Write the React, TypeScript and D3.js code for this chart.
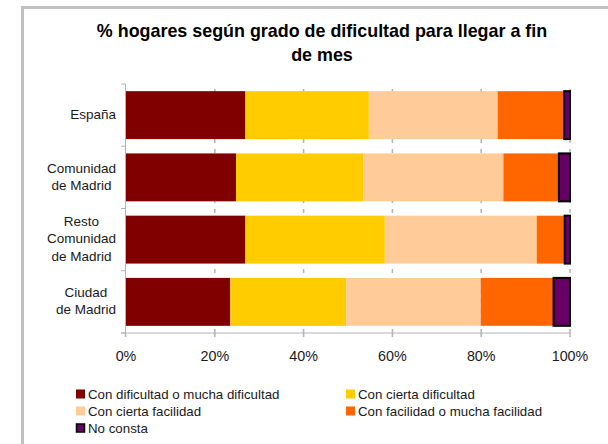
import React from "react";
import * as d3 from "d3";

const categories = ["España", "Comunidad de Madrid", "Resto Comunidad de Madrid", "Ciudad de Madrid"];
const categoryLines = [["España"], ["Comunidad", "de Madrid"], ["Resto", "Comunidad", "de Madrid"], ["Ciudad", "de Madrid"]];
const seriesNames = [
  "Con dificultad o mucha dificultad",
  "Con cierta dificultad",
  "Con cierta facilidad",
  "Con facilidad o mucha facilidad",
  "No consta",
];
const conDificultad = [26.9, 24.8, 26.9, 23.5];
const ciertaDificultad = [27.8, 28.6, 31.4, 26.1];
const ciertaFacilidad = [29.0, 31.6, 34.2, 30.3];
const conFacilidad = [15.0, 12.5, 6.3, 16.4];
const noConsta = [1.3, 2.5, 1.2, 3.7];
const seriesValues = [conDificultad, ciertaDificultad, ciertaFacilidad, conFacilidad, noConsta];
const colors = ["#800000", "#FFCC00", "#FFCC99", "#FF6600", "#660066"];
const xTicks = [0, 20, 40, 60, 80, 100];
const titleLines = ["% hogares según grado de dificultad para llegar a fin", "de mes"];

const FONT = "'Liberation Sans', Arial, Helvetica, sans-serif";

let ctx: CanvasRenderingContext2D | null = null;
function measure(text: string, font: string): number {
  if (!ctx) ctx = document.createElement("canvas").getContext("2d");
  if (!ctx) return text.length * 7;
  ctx.font = font;
  return ctx.measureText(text).width;
}

export default function App() {
  const W = 608, H = 444;
  const x = d3.scaleLinear().domain([0, 100]).range([126, 570]);
  const y = d3.scaleBand<string>().domain(categories).range([84, 333]).paddingInner(0.23).paddingOuter(0.115);

  const rows = categories.map((c, i) => {
    const r: any = { cat: c };
    seriesNames.forEach((s, k) => (r[s] = seriesValues[k][i]));
    return r;
  });
  const stacked = d3.stack<any>().keys(seriesNames)(rows);

  const catFont = `13.5px ${FONT}`;
  const lineH = 17.3;
  const labelRight = 116;

  const step = y.step();
  const boundaries = categories.map((_, i) => 84 + i * step).concat([333]);

  return (
    <svg width={W} height={H} style={{ position: "absolute", left: 0, top: 0, background: "#fff" }} fontFamily={FONT}>
      <rect x={0} y={0} width={W} height={H} fill="#fff" />
      <rect x={22.5} y={7.5} width={700} height={600} fill="#fff" stroke="#c0c0c0" strokeWidth={3} />

      {titleLines.map((t, i) => (
        <text key={i} x={322} y={36.5 + i * 24} textAnchor="middle" fontSize={17.9} fontWeight="bold" fill="#000">
          {t}
        </text>
      ))}

      {/* gridlines */}
      {xTicks.slice(1).map((t) => (
        <line key={t} x1={x(t)} x2={x(t)} y1={333} y2={84} stroke="#b3b3b3" strokeWidth={1.5} strokeDasharray="4,6" />
      ))}

      {/* bars */}
      {stacked.map((s, k) => (
        <g key={s.key} fill={colors[k]}>
          {s.map((d, i) => (
            <rect
              key={i}
              x={x(d[0])}
              y={y(categories[i])}
              width={x(d[1]) - x(d[0])}
              height={y.bandwidth()}
              stroke={k === 4 ? "#000" : "none"}
              strokeWidth={k === 4 ? 2 : 0}
            />
          ))}
        </g>
      ))}

      {/* axes */}
      <line x1={125.5} x2={125.5} y1={84} y2={337} stroke="#b3b3b3" strokeWidth={1} />
      {boundaries.map((b, i) => (
        <line key={i} x1={121} x2={125.5} y1={b} y2={b} stroke="#b3b3b3" strokeWidth={1} />
      ))}
      <line x1={121} x2={570} y1={333} y2={333} stroke="#b3b3b3" strokeWidth={1} />
      {xTicks.map((t) => (
        <g key={t}>
          <line x1={t === 0 ? 125.5 : x(t)} x2={t === 0 ? 125.5 : x(t)} y1={333} y2={337} stroke="#b3b3b3" strokeWidth={1.5} />
          <text x={x(t)} y={361} textAnchor="middle" fontSize={14.3} fill="#1a1a1a">
            {t}%
          </text>
        </g>
      ))}

      {/* category labels */}
      {categoryLines.map((lines, i) => {
        const maxW = Math.max(...lines.map((l) => measure(l, catFont)));
        const cx = labelRight - maxW / 2;
        const cy = (y(categories[i]) as number) + y.bandwidth() / 2 - 1;
        const top = cy - ((lines.length - 1) * lineH) / 2;
        return (
          <g key={i}>
            {lines.map((l, j) => (
              <text key={j} x={cx} y={top + j * lineH + 4.8} textAnchor="middle" fontSize={13.5} fill="#1a1a1a">
                {l}
              </text>
            ))}
          </g>
        );
      })}

      {/* legend */}
      {seriesNames.map((s, k) => {
        const col = k % 2;
        const row = Math.floor(k / 2);
        const lx = col === 0 ? 76 : 346;
        const ly = 394 + row * 17;
        return (
          <g key={s}>
            <rect
              x={lx + (k === 4 ? 0.5 : 0)}
              y={ly - 4.5 + (k === 4 ? 0.5 : 0)}
              width={k === 4 ? 8 : 9}
              height={k === 4 ? 8 : 9}
              fill={colors[k]}
              stroke={k === 4 ? "#000" : "none"}
              strokeWidth={k === 4 ? 1.5 : 0}
            />
            <text x={lx + 12} y={ly + 4.7} fontSize={13.3} fill="#1a1a1a">
              {s}
            </text>
          </g>
        );
      })}
    </svg>
  );
}
